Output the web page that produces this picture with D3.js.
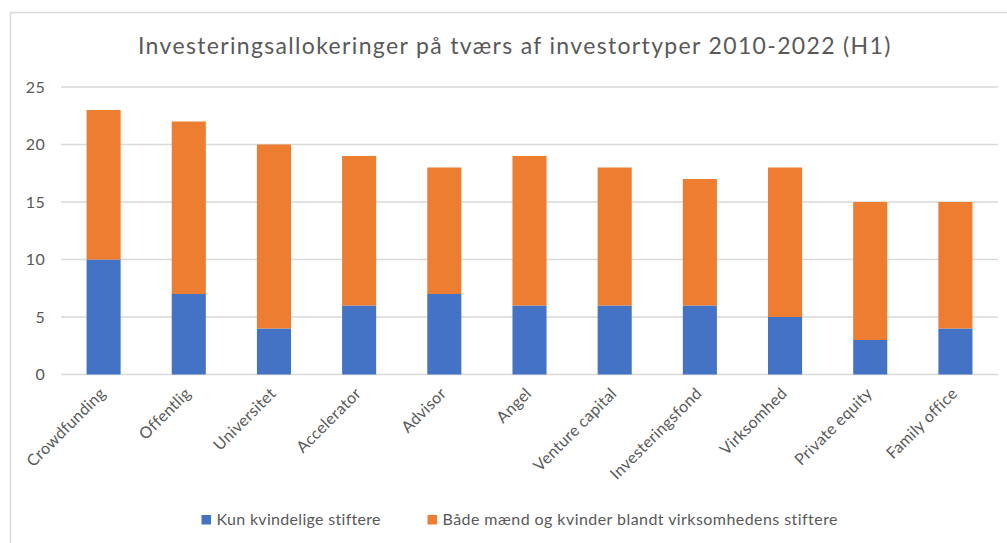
<!DOCTYPE html>
<html><head><meta charset="utf-8">
<script src="https://cdn.jsdelivr.net/npm/d3@7"></script>
<style>body{margin:0;background:#fff;} svg{display:block;}</style>
</head><body>
<svg id="c" width="1007" height="543"></svg>
<script>
const categories = ["Crowdfunding","Offentlig","Universitet","Accelerator","Advisor","Angel","Venture capital","Investeringsfond","Virksomhed","Private equity","Family office"];
const onlyWomen = [10,7,4,6,7,6,6,6,5,3,4];
const mixed = [13,15,16,13,11,13,12,11,13,12,11];
const seriesNames = ["Kun kvindelige stiftere","Både mænd og kvinder blandt virksomhedens stiftere"];
const yTicks = [0,5,10,15,20,25];
const colors = ["#4472C4","#ED7D31"];

const svg = d3.select("#c");
const font = "Lato, 'Open Sans', sans-serif";
const txt = "#595959";

function fit(sel, target){
  sel.each(function(){
    const n = this.textContent.length;
    const w = this.getComputedTextLength();
    if(n>1) d3.select(this).attr("letter-spacing", ((target - w)/(n-1)).toFixed(2));
  });
}

// border
svg.append("rect").attr("x",10.5).attr("y",12.5).attr("width",1010).attr("height",540)
  .attr("fill","none").attr("stroke","#D9D9D9").attr("stroke-width",1.5);

const m = {left:61, right:998, top:87, bottom:374.5};
const x = d3.scaleBand().domain(categories).range([m.left,m.right]).paddingInner(0.6).paddingOuter(0.3);
const y = d3.scaleLinear().domain([0,25]).range([m.bottom,m.top]);

const title = svg.append("text").attr("x",138).attr("y",53.5)
  .attr("font-family",font).attr("font-size",23).attr("fill",txt)
  .text("Investeringsallokeringer på tværs af investortyper 2010-2022 (H1)");
fit(title, 752);

svg.append("g").selectAll("line").data(yTicks).join("line")
  .attr("x1",m.left).attr("x2",m.right).attr("y1",d=>y(d)).attr("y2",d=>y(d))
  .attr("stroke","#D9D9D9").attr("stroke-width",1.5);

const yAxis = d3.axisLeft(y).tickValues(yTicks).tickSize(0).tickPadding(0);
const ya = svg.append("g").attr("transform",`translate(45,0)`).call(yAxis);
ya.select(".domain").remove();
ya.selectAll("text").attr("font-family",font).attr("font-size",16).attr("fill",txt).attr("letter-spacing",0.3);

const data = categories.map((c,i)=>({cat:c, a:onlyWomen[i], b:mixed[i]}));
const stack = d3.stack().keys(["a","b"])(data);
svg.append("g").selectAll("g").data(stack).join("g").attr("fill",(d,i)=>colors[i])
  .selectAll("rect").data(d=>d).join("rect")
  .attr("x",d=>x(d.data.cat)).attr("width",x.bandwidth())
  .attr("y",d=>y(d[1])).attr("height",d=>y(d[0])-y(d[1]));

const xAxis = d3.axisBottom(x).tickSize(0).tickPadding(0);
const xa = svg.append("g").attr("transform",`translate(0,${m.bottom})`).call(xAxis);
xa.select(".domain").remove();
xa.selectAll("text").attr("font-family",font).attr("font-size",16).attr("fill",txt)
  .attr("letter-spacing",0.3)
  .attr("text-anchor","end").attr("dy",null).attr("y",0)
  .attr("transform","translate(3,20) rotate(-45)");

const leg = svg.append("g");
const legX = [201.5, 427.5];
const legW = [164, 395];
seriesNames.forEach((n,i)=>{
  leg.append("rect").attr("x",legX[i]).attr("y",515).attr("width",9.5).attr("height",9.5).attr("fill",colors[i]);
  const t = leg.append("text").attr("x",legX[i]+15).attr("y",525).attr("font-family",font).attr("font-size",16)
    .attr("fill",txt).text(n);
  fit(t, legW[i]);
});
</script>
</body></html>
